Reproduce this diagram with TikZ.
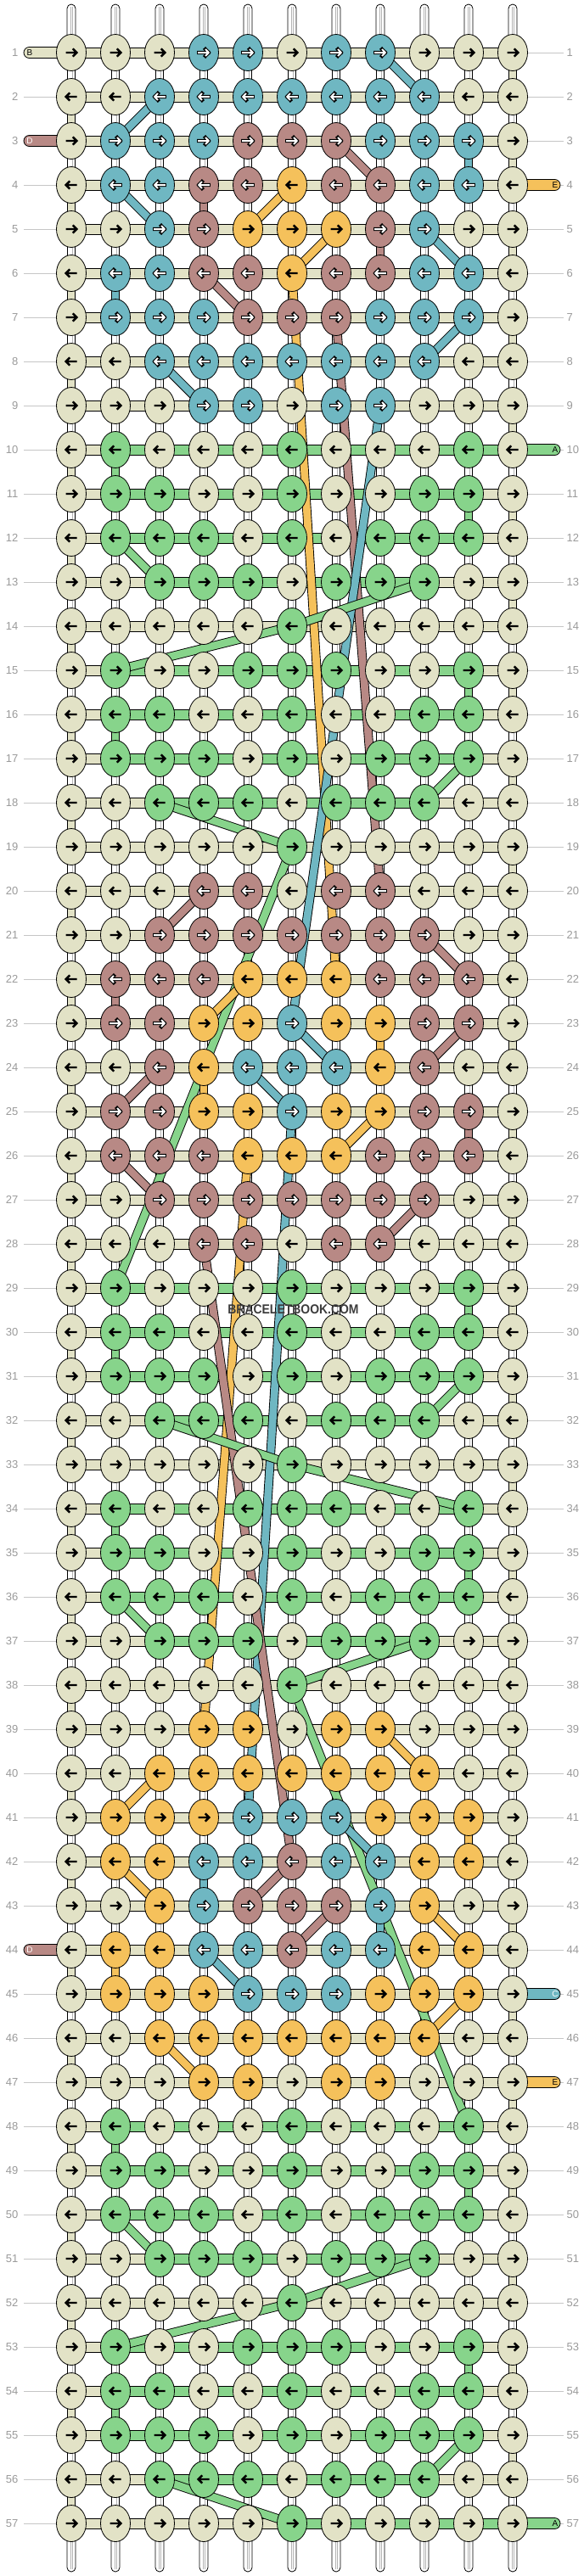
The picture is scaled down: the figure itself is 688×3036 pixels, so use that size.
\documentclass[tikz,border=0pt]{standalone}
\usepackage{fontspec}
\setmainfont{Liberation Sans}
\usetikzlibrary{shapes.geometric,shapes.misc}
\definecolor{kW}{HTML}{E2E2C6}
\definecolor{kB}{HTML}{6FB7C2}
\definecolor{kR}{HTML}{B88985}
\definecolor{kY}{HTML}{F5C15B}
\definecolor{kG}{HTML}{87D48B}
\definecolor{lblgray}{HTML}{9A9A9A}
\definecolor{tickgray}{HTML}{C6C6C6}
\definecolor{stubgray}{HTML}{B4B4B4}
\definecolor{wmark}{HTML}{3C3C3C}
\pgfdeclarelayer{bg}
\pgfdeclarelayer{mid}
\pgfsetlayers{bg,mid,main}
\tikzset{
  knot/.style={ellipse,draw=black,line width=0.8pt,minimum width=35pt,minimum height=43pt,inner sep=0pt},
  tableft/.style={rounded rectangle,rounded rectangle right arc=none,draw=black,line width=0.8pt,minimum width=42pt,minimum height=13pt,inner sep=0pt},
  tabright/.style={rounded rectangle,rounded rectangle left arc=none,draw=black,line width=0.8pt,minimum width=42pt,minimum height=13pt,inner sep=0pt},
  tabletter/.style={font=\fontsize{10}{10}\selectfont,inner sep=0pt},
  rowlabel/.style={font=\fontsize{13}{13}\selectfont,text=lblgray,inner sep=0pt},
  ticksty/.style={draw=tickgray,line width=1pt}
}
\newcommand\arrowblack{%
  \draw[line width=2.4pt,line cap=butt,line join=miter] (-6.5,0) -- (6,0) (1.8,-4.6) -- (6.4,0) -- (1.8,4.6);}
\newcommand\arrowwhite{%
  \draw[line width=4.2pt,line cap=rect,line join=miter] (-5.8,0) -- (5.4,0) (2.0,-4.0) -- (5.8,0) -- (2.0,4.0);
  \draw[white,line width=2.0pt,line cap=butt,line join=miter] (-6.8,0) -- (5.4,0) (2.0,-4.0) -- (5.8,0) -- (2.0,4.0);}
\newcommand\arW{\arrowblack}
\newcommand\arY{\arrowblack}
\newcommand\arG{\arrowblack}
\newcommand\arB{\arrowwhite}
\newcommand\arR{\arrowwhite}
\newcommand\krow[2]{%
  \pgfmathtruncatemacro\kdir{ifthenelse(mod(#1,2)==1,1,-1)}%
  \foreach \c [count=\i] in {#2}{%
    \node[knot,fill=k\c] (k-#1-\i) at ({84+52*(\i-1)},{62+52*(#1-1)}) {};
    \begin{scope}[shift={(k-#1-\i.center)},xscale=\kdir]
      \csname ar\c\endcsname
    \end{scope}
  }}
\newcommand\hrow[3]{%
  \foreach \i in {1,...,10}{%
    \pgfmathtruncatemacro\j{\i+1}%
    \pgfmathtruncatemacro\isg{and(\i>=#2,\j<=#3)}%
    \ifnum\isg=1 \def\hc{kG}\else\def\hc{kW}\fi
    \draw[line width=13pt] (k-#1-\i.center) -- (k-#1-\j.center);
    \draw[color=\hc,line width=11pt] (k-#1-\i.center) -- (k-#1-\j.center);
  }}
\newcommand\band[5]{%
  \draw[line width=10.6pt] (k-#2-#3.center) -- (k-#4-#5.center);
  \draw[#1,line width=8.8pt] (k-#2-#3.center) -- (k-#4-#5.center);}
\begin{document}
\begin{tikzpicture}[x=1pt,y=-1pt]
\useasboundingbox (0,0) rectangle (688,3036);
% knots
\krow{1}{W,W,W,B,B,W,B,B,W,W,W}
\krow{2}{W,W,B,B,B,B,B,B,B,W,W}
\krow{3}{W,B,B,B,R,R,R,B,B,B,W}
\krow{4}{W,B,B,R,R,Y,R,R,B,B,W}
\krow{5}{W,W,B,R,Y,Y,Y,R,B,W,W}
\krow{6}{W,B,B,R,R,Y,R,R,B,B,W}
\krow{7}{W,B,B,B,R,R,R,B,B,B,W}
\krow{8}{W,W,B,B,B,B,B,B,B,W,W}
\krow{9}{W,W,W,B,B,W,B,B,W,W,W}
\krow{10}{W,G,W,W,W,G,W,W,W,G,W}
\krow{11}{W,G,G,W,W,G,W,W,G,G,W}
\krow{12}{W,G,G,G,W,G,W,G,G,G,W}
\krow{13}{W,W,G,G,G,W,G,G,G,W,W}
\krow{14}{W,W,W,W,W,G,W,W,W,W,W}
\krow{15}{W,G,W,W,G,G,G,W,W,G,W}
\krow{16}{W,G,G,W,W,G,W,W,G,G,W}
\krow{17}{W,G,G,G,W,G,W,G,G,G,W}
\krow{18}{W,W,G,G,G,W,G,G,G,W,W}
\krow{19}{W,W,W,W,W,G,W,W,W,W,W}
\krow{20}{W,W,W,R,R,W,R,R,W,W,W}
\krow{21}{W,W,R,R,R,R,R,R,R,W,W}
\krow{22}{W,R,R,R,Y,Y,Y,R,R,R,W}
\krow{23}{W,R,R,Y,Y,B,Y,Y,R,R,W}
\krow{24}{W,W,R,Y,B,B,B,Y,R,W,W}
\krow{25}{W,R,R,Y,Y,B,Y,Y,R,R,W}
\krow{26}{W,R,R,R,Y,Y,Y,R,R,R,W}
\krow{27}{W,W,R,R,R,R,R,R,R,W,W}
\krow{28}{W,W,W,R,R,W,R,R,W,W,W}
\krow{29}{W,G,W,W,W,G,W,W,W,G,W}
\krow{30}{W,G,G,W,W,G,W,W,G,G,W}
\krow{31}{W,G,G,G,W,G,W,G,G,G,W}
\krow{32}{W,W,G,G,G,W,G,G,G,W,W}
\krow{33}{W,W,W,W,W,G,W,W,W,W,W}
\krow{34}{W,G,W,W,G,G,G,W,W,G,W}
\krow{35}{W,G,G,W,W,G,W,W,G,G,W}
\krow{36}{W,G,G,G,W,G,W,G,G,G,W}
\krow{37}{W,W,G,G,G,W,G,G,G,W,W}
\krow{38}{W,W,W,W,W,G,W,W,W,W,W}
\krow{39}{W,W,W,Y,Y,W,Y,Y,W,W,W}
\krow{40}{W,W,Y,Y,Y,Y,Y,Y,Y,W,W}
\krow{41}{W,Y,Y,Y,B,B,B,Y,Y,Y,W}
\krow{42}{W,Y,Y,B,B,R,B,B,Y,Y,W}
\krow{43}{W,W,Y,B,R,R,R,B,Y,W,W}
\krow{44}{W,Y,Y,B,B,R,B,B,Y,Y,W}
\krow{45}{W,Y,Y,Y,B,B,B,Y,Y,Y,W}
\krow{46}{W,W,Y,Y,Y,Y,Y,Y,Y,W,W}
\krow{47}{W,W,W,Y,Y,W,Y,Y,W,W,W}
\krow{48}{W,G,W,W,W,G,W,W,W,G,W}
\krow{49}{W,G,G,W,W,G,W,W,G,G,W}
\krow{50}{W,G,G,G,W,G,W,G,G,G,W}
\krow{51}{W,W,G,G,G,W,G,G,G,W,W}
\krow{52}{W,W,W,W,W,G,W,W,W,W,W}
\krow{53}{W,G,W,W,G,G,G,W,W,G,W}
\krow{54}{W,G,G,W,W,G,W,W,G,G,W}
\krow{55}{W,G,G,G,W,G,W,G,G,G,W}
\krow{56}{W,W,G,G,G,W,G,G,G,W,W}
\krow{57}{W,W,W,W,W,G,W,W,W,W,W}
\begin{pgfonlayer}{bg}
% horizontal connectors
\foreach \r in {1,...,9,20,21,22,23,24,25,26,27,28,39,40,41,42,43,44,45,46,47}{\hrow{\r}{0}{0}}
\hrow{10}{2}{11}
\foreach \r in {11,12,15,16,17,29,30,31,34,35,36,48,49,50,53,54,55}{\hrow{\r}{2}{10}}
\foreach \r in {13,18,32,37,51,56}{\hrow{\r}{3}{9}}
\foreach \r in {14,19,33,38,52}{\hrow{\r}{0}{0}}
\hrow{57}{6}{11}
% vertical connectors
\foreach \r in {1,...,56}{%
  \pgfmathtruncatemacro\s{\r+1}%
  \foreach \i in {1,...,11}{%
    \draw[line width=10pt] (k-\r-\i.center) -- (k-\s-\i.center);
    \draw[white,line width=8.4pt] (k-\r-\i.center) -- (k-\s-\i.center);
    \draw[stubgray,line width=3pt] (k-\r-\i.center) -- (k-\s-\i.center);
    \draw[white,line width=1.6pt] (k-\r-\i.center) -- (k-\s-\i.center);
  }
  \pgfmathtruncatemacro\ev{mod(\r,2)}%
  \ifnum\ev=0 \def\bc{1}\else\def\bc{11}\fi
  \draw[line width=10pt] (k-\r-\bc.center) -- (k-\s-\bc.center);
  \draw[kW,line width=8.4pt] (k-\r-\bc.center) -- (k-\s-\bc.center);
}
% strand stubs
\foreach \i in {1,...,11}{%
  \pgfmathsetmacro\xx{84+52*(\i-1)}
  \draw[fill=white,line width=0.8pt] (\xx-5,45) -- (\xx-5,10) arc[start angle=180,end angle=360,radius=5] -- (\xx+5,45);
  \draw[stubgray,line width=0.6pt] (\xx-1.2,45) -- (\xx-1.2,8) (\xx+1.2,45) -- (\xx+1.2,8);
  \draw[fill=white,line width=0.8pt] (\xx-5,2991) -- (\xx-5,3026) arc[start angle=180,end angle=0,radius=5] -- (\xx+5,2991);
  \draw[stubgray,line width=0.6pt] (\xx-1.2,2991) -- (\xx-1.2,3028) (\xx+1.2,2991) -- (\xx+1.2,3028);
}
% ticks
\foreach \r in {1,...,57}{%
  \pgfmathsetmacro\yy{62+52*(\r-1)}
  \draw[ticksty] (28,\yy) -- (70,\yy);
  \draw[ticksty] (618,\yy) -- (664,\yy);
}
% tabs
\node[tableft,fill=kW] (tab-l-1) at (49,62) {};
\node[tableft,fill=kR] (tab-l-3) at (49,166) {};
\node[tableft,fill=kR] (tab-l-44) at (49,2298) {};
\node[tabright,fill=kY] (tab-r-4) at (639,218) {};
\node[tabright,fill=kG] (tab-r-10) at (639,530) {};
\node[tabright,fill=kB] (tab-r-45) at (639,2350) {};
\node[tabright,fill=kY] (tab-r-47) at (639,2454) {};
\node[tabright,fill=kG] (tab-r-57) at (639,2974) {};
\end{pgfonlayer}
% strands moving between rows
\begin{pgfonlayer}{mid}
% section 1
\band{kB}{1}{8}{2}{9}
\band{kB}{2}{3}{3}{2}
\band{kR}{3}{7}{4}{8}
\band{kB}{3}{10}{4}{10}
\band{kB}{4}{2}{5}{3}
\band{kR}{4}{4}{5}{4}
\band{kY}{4}{6}{5}{5}
\band{kY}{5}{7}{6}{6}
\band{kR}{5}{8}{6}{8}
\band{kB}{5}{9}{6}{10}
\band{kB}{6}{2}{7}{2}
\band{kR}{6}{4}{7}{5}
\band{kB}{7}{10}{8}{9}
\band{kB}{8}{3}{9}{4}
\band{kY}{6}{6}{22}{7}
\band{kR}{7}{7}{20}{8}
\band{kB}{9}{8}{23}{6}
% green section A
\band{kG}{10}{2}{11}{2}
\band{kG}{11}{10}{12}{10}
\band{kG}{12}{2}{13}{3}
\band{kG}{13}{9}{14}{6}
\band{kG}{14}{6}{15}{2}
\band{kG}{15}{10}{16}{10}
\band{kG}{16}{2}{17}{2}
\band{kG}{17}{10}{18}{9}
\band{kG}{18}{3}{19}{6}
\band{kG}{19}{6}{29}{2}
% section 2
\band{kR}{20}{4}{21}{3}
\band{kR}{21}{9}{22}{10}
\band{kY}{22}{5}{23}{4}
\band{kR}{22}{2}{23}{2}
\band{kR}{23}{10}{24}{9}
\band{kY}{23}{8}{24}{8}
\band{kB}{23}{6}{24}{7}
\band{kB}{24}{5}{25}{6}
\band{kY}{24}{4}{25}{4}
\band{kR}{24}{3}{25}{2}
\band{kR}{25}{10}{26}{10}
\band{kY}{25}{8}{26}{7}
\band{kR}{26}{2}{27}{3}
\band{kR}{27}{9}{28}{8}
\band{kB}{25}{6}{41}{5}
\band{kY}{26}{5}{39}{4}
\band{kR}{28}{4}{42}{6}
% green section B
\band{kG}{29}{10}{30}{10}
\band{kG}{30}{2}{31}{2}
\band{kG}{31}{10}{32}{9}
\band{kG}{32}{3}{33}{6}
\band{kG}{33}{6}{34}{10}
\band{kG}{34}{2}{35}{2}
\band{kG}{35}{10}{36}{10}
\band{kG}{36}{2}{37}{3}
\band{kG}{37}{9}{38}{6}
\band{kG}{38}{6}{48}{10}
% section 3
\band{kY}{39}{8}{40}{9}
\band{kY}{40}{3}{41}{2}
\band{kB}{41}{7}{42}{8}
\band{kY}{41}{10}{42}{10}
\band{kY}{42}{2}{43}{3}
\band{kB}{42}{4}{43}{4}
\band{kR}{42}{6}{43}{5}
\band{kR}{43}{7}{44}{6}
\band{kB}{43}{8}{44}{8}
\band{kY}{43}{9}{44}{10}
\band{kY}{44}{2}{45}{2}
\band{kB}{44}{4}{45}{5}
\band{kY}{45}{10}{46}{9}
\band{kY}{46}{3}{47}{4}
% green section C
\band{kG}{48}{2}{49}{2}
\band{kG}{49}{10}{50}{10}
\band{kG}{50}{2}{51}{3}
\band{kG}{51}{9}{52}{6}
\band{kG}{52}{6}{53}{2}
\band{kG}{53}{10}{54}{10}
\band{kG}{54}{2}{55}{2}
\band{kG}{55}{10}{56}{9}
\band{kG}{56}{3}{57}{6}
\end{pgfonlayer}
% row labels
\foreach \r in {1,...,57}{%
  \pgfmathsetmacro\yy{62+52*(\r-1)}
  \node[rowlabel,anchor=east] (lab-l-\r) at (21.5,\yy) {\r};
  \node[rowlabel,anchor=west] (lab-r-\r) at (667.5,\yy) {\r};
}
% tab letters
\node[tabletter,text=black] (tl-1) at (35,62) {B};
\node[tabletter,text=white] (tl-3) at (35,166) {D};
\node[tabletter,text=white] (tl-44) at (35,2298) {D};
\node[tabletter,text=black] (tr-4) at (654,218) {E};
\node[tabletter,text=black] (tr-10) at (654,530) {A};
\node[tabletter,text=white] (tr-45) at (654,2350) {C};
\node[tabletter,text=black] (tr-47) at (654,2454) {E};
\node[tabletter,text=black] (tr-57) at (654,2974) {A};
% watermark
\node[font=\bfseries\fontsize{15.5}{15.5}\selectfont,text=wmark,inner sep=0pt,xscale=0.9] (wm) at (345.5,1543) {BRACELETBOOK.COM};
\end{tikzpicture}
\end{document}
